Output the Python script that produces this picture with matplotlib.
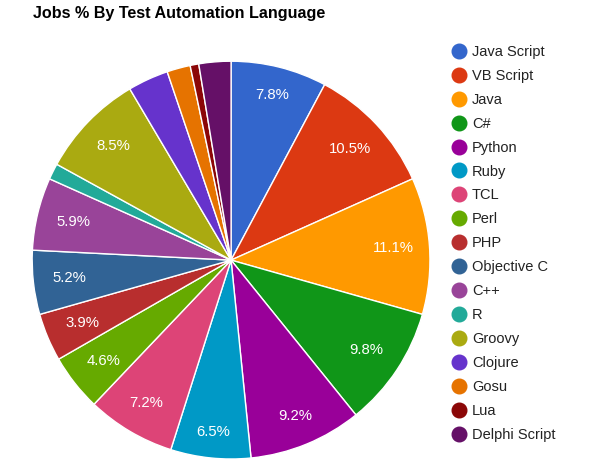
import numpy as np
import matplotlib
matplotlib.use("Agg")
import matplotlib.pyplot as plt
from matplotlib.lines import Line2D

plt.rcParams['font.family'] = ['Liberation Sans', 'DejaVu Sans']

languages = ['Java Script', 'VB Script', 'Java', 'C#', 'Python', 'Ruby', 'TCL',
             'Perl', 'PHP', 'Objective C', 'C++', 'R', 'Groovy', 'Clojure',
             'Gosu', 'Lua', 'Delphi Script']
shares = [7.8, 10.5, 11.1, 9.8, 9.2, 6.5, 7.2, 4.6, 3.9, 5.2, 5.9, 1.3, 8.5,
          3.3, 1.9, 0.7, 2.6]
colors = ['#3366cc', '#dc3912', '#ff9900', '#109618', '#990099', '#0099c6',
          '#dd4477', '#66aa00', '#b82e2e', '#316395', '#994499', '#22aa99',
          '#aaaa11', '#6633cc', '#e67300', '#8b0707', '#651067']

fig = plt.figure(figsize=(5.89, 4.62), dpi=100)
ax = fig.add_axes([0.0543, 0.0065, 0.676, 0.861])

wedges, _ = ax.pie(shares, colors=colors, startangle=90, counterclock=False,
                   radius=1.0, wedgeprops=dict(edgecolor='white', linewidth=1))
ax.set_xlim(-1, 1)
ax.set_ylim(-1, 1)
ax.set_aspect('equal')
ax.axis('off')

# percentage labels: text box kept inside an inner ring
total = sum(shares)
for w, v in zip(wedges, shares):
    pct = 100 * v / total
    if pct < 3.5:
        continue
    mid = np.deg2rad((w.theta1 + w.theta2) / 2)
    c, s = np.cos(mid), np.sin(mid)
    r = 0.915 - (abs(c) * 0.095 + abs(s) * 0.037)
    ax.text(r * c, r * s, f'{pct:.1f}%', color='white',
            ha='center', va='center', fontsize=10.7)

fig.text(0.056, 0.971, 'Jobs % By Test Automation Language', fontsize=11.6,
         fontweight='bold', ha='left', va='center', color='#000000')

handles = [Line2D([], [], marker='o', linestyle='', markersize=10.5,
                  markerfacecolor=c, markeredgecolor=c) for c in colors]
leg = fig.legend(handles, languages, loc='upper left',
                 bbox_to_anchor=(0.764, 0.9026), frameon=False, fontsize=10.5,
                 labelspacing=0.68, handletextpad=0.3, handlelength=1.2,
                 borderaxespad=0, borderpad=0)
for t in leg.get_texts():
    t.set_color('#222222')

fig.savefig('out.png', dpi=100)
